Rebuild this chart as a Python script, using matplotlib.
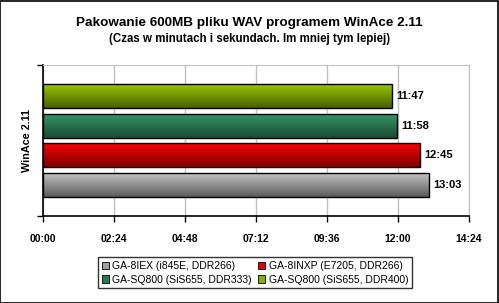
import numpy as np
import matplotlib
matplotlib.use('Agg')
import matplotlib.pyplot as plt
from matplotlib.colors import LinearSegmentedColormap
from matplotlib.patches import Patch, Rectangle

plt.rcParams['font.family'] = ['Liberation Sans', 'DejaVu Sans']

# bottom to top, as drawn
series = ['GA-8IEX (i845E, DDR266)', 'GA-8INXP (E7205, DDR266)',
          'GA-SQ800 (SiS655, DDR333)', 'GA-SQ800 (SiS655, DDR400)']
times = ['13:03', '12:45', '11:58', '11:47']
seconds = [int(t.split(':')[0]) * 60 + int(t.split(':')[1]) for t in times]
top_colors = ['#c8c8c8', '#ff0000', '#339966', '#99cc00']
bottom_colors = ['#5a5a5a', '#800000', '#1c4a35', '#4a5f00']
legend_colors = ['#a0a0a0', '#e00000', '#2a7a52', '#88b000']
xticks = list(range(0, 865, 144))
xlabels = ['%02d:%02d' % (s // 60, s % 60) for s in xticks]

fig = plt.figure(figsize=(4.99, 3.03), dpi=100)
ax = fig.add_axes([0.0856, 0.2881, 0.8543, 0.4974])

ypos = np.arange(len(series))
bars = ax.barh(ypos, seconds, height=0.81, facecolor='none',
               edgecolor='black', linewidth=1.0, zorder=3)

grad = np.linspace(0, 1, 64).reshape(-1, 1)
for patch, c1, c2 in zip(bars, top_colors, bottom_colors):
    x0, y0 = patch.get_x(), patch.get_y()
    w, h = patch.get_width(), patch.get_height()
    cmap = LinearSegmentedColormap.from_list('g', [c1, c2])
    im = ax.imshow(grad, extent=[x0, x0 + w, y0, y0 + h], aspect='auto',
                   cmap=cmap, zorder=2, interpolation='bilinear')
    im.set_clip_path(patch)

for y, s, t in zip(ypos, seconds, times):
    ax.text(s + 9, y, t, va='center', ha='left', fontsize=8,
            fontweight='bold')

ax.set_xlim(0, 864)
ax.set_ylim(-1.03, 4.04)
ax.set_xticks(xticks)
ax.set_xticklabels(xlabels, fontsize=7.5, fontweight='bold')
ax.set_yticks([-1.03, 4.04])
ax.set_yticklabels([])
ax.tick_params(axis='both', direction='out', length=4, width=1, color='black')
ax.tick_params(axis='x', pad=9)
ax.grid(axis='x', color='#c0c0c0', linewidth=1, zorder=0)
ax.set_axisbelow(True)
for side in ['top', 'right']:
    ax.spines[side].set_color('#c0c0c0')
for side in ['left', 'bottom']:
    ax.spines[side].set_color('black')
    ax.spines[side].set_linewidth(1.2)
ax.set_ylabel('WinAce 2.11', fontsize=7.8, fontweight='bold', labelpad=0.3)

fig.text(0.5, 0.925, 'Pakowanie 600MB pliku WAV programem WinAce 2.11',
         ha='center', va='center', fontsize=9.7, fontweight='bold')
fig.text(0.5, 0.870, '(Czas w minutach i sekundach. Im mniej tym lepiej)',
         ha='center', va='center', fontsize=8.3, fontweight='bold')

handles = [Patch(facecolor=c, edgecolor='black', linewidth=0.6) for c in legend_colors]
order = [0, 2, 1, 3]
leg = fig.legend([handles[i] for i in order], [series[i] for i in order],
                 ncol=2, loc='center', bbox_to_anchor=(0.511, 0.1),
                 fontsize=7.5, frameon=True, fancybox=False,
                 edgecolor='black', handlelength=0.7, handleheight=0.7,
                 handletextpad=0.3, columnspacing=0.6, labelspacing=0.35,
                 borderpad=0.35)
leg.get_frame().set_linewidth(1.0)

fig.patches.append(Rectangle((0.001, 0.001), 0.997, 0.996, transform=fig.transFigure,
                             fill=False, edgecolor='black', linewidth=1.2))

fig.savefig('out.png', dpi=100)
